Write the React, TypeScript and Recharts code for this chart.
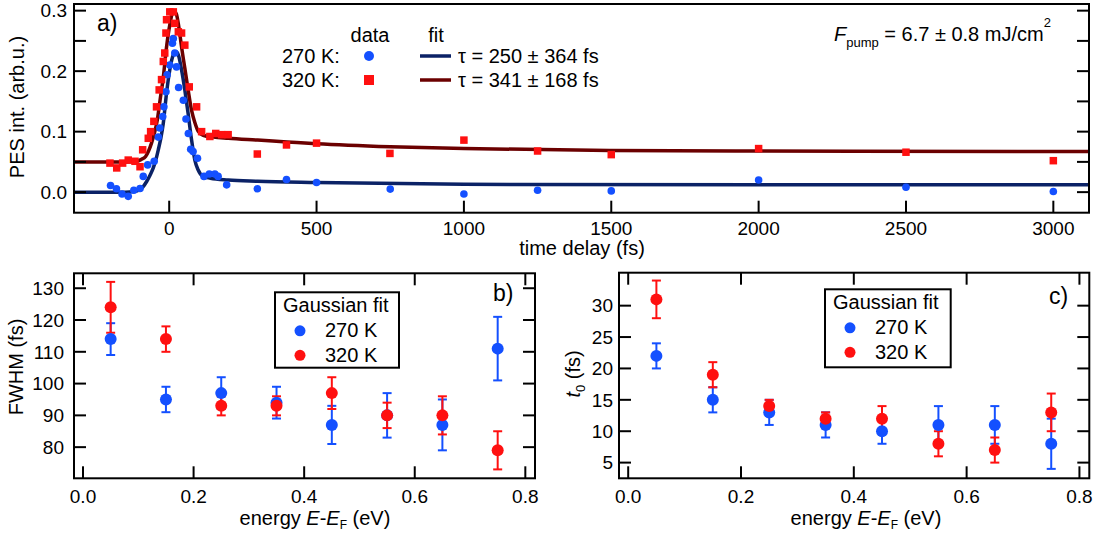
import React from "react"
import { ComposedChart, Scatter, Line, XAxis, YAxis, ErrorBar } from "recharts"

const FONT = "'Liberation Sans', Arial, Helvetica, sans-serif"

const DOT_BLUE = "#1450ff"
const DOT_RED = "#ff1010"
const FIT_BLUE = "#0b2266"
const FIT_RED = "#6b0000"

// a) PES intensity vs time delay
const delay270 = [-199, -179, -160, -139, -120, -99, -88, -73, -51, -37, -32, -22, -18, -11, -7, 2, 11, 14, 19, 25, 32, 48, 57, 65, 73, 81, 96, 118, 136, 155, 166, 195, 299, 398, 500, 750, 1000, 1250, 1500, 2000, 2500, 3000]
const pes270 = [0.011, 0.0055, -0.003, -0.007, 0.003, 0.006, 0.026, 0.045, 0.051, 0.091, 0.106, 0.125, 0.141, 0.166, 0.194, 0.21, 0.246, 0.254, 0.23, 0.207, 0.173, 0.152, 0.121, 0.097, 0.071, 0.067, 0.056, 0.026, 0.03, 0.03, 0.026, 0.012, 0.0055, 0.021, 0.016, 0.005, -0.003, 0.003, 0.002, 0.02, 0.008, 0.001]
const delay320 = [-201, -178, -158, -139, -116, -99, -90, -71, -63, -52, -43, -34, -26, -20, -15, -11, -9, 2, 14, 19, 31, 42, 53, 68, 93, 110, 138, 158, 178, 200, 299, 398, 500, 749, 1000, 1250, 1500, 2000, 2500, 3000]
const pes320 = [0.048, 0.04, 0.048, 0.053, 0.051, 0.042, 0.07, 0.089, 0.1, 0.117, 0.141, 0.169, 0.186, 0.216, 0.23, 0.263, 0.285, 0.298, 0.298, 0.279, 0.265, 0.263, 0.243, 0.174, 0.141, 0.1, 0.092, 0.097, 0.095, 0.095, 0.063, 0.078, 0.081, 0.064, 0.086, 0.068, 0.062, 0.072, 0.066, 0.052]

const fitDelay270 = [-323, -150, -120, -100, -90, -76, -65, -54, -45, -37, -28, -20, -9, 2, 14, 23, 31, 42, 53, 64, 76, 87, 98, 115, 140, 200, 300, 500, 1000, 2000, 3121]
const fit270 = [0, 0, 0.001, 0.004, 0.008, 0.018, 0.028, 0.04, 0.054, 0.07, 0.09, 0.114, 0.164, 0.202, 0.227, 0.232, 0.227, 0.202, 0.169, 0.131, 0.086, 0.053, 0.037, 0.026, 0.023, 0.02, 0.018, 0.016, 0.013, 0.012, 0.012]
const fitDelay320 = [-323, -150, -110, -95, -80, -70, -60, -50, -40, -31, -20, -9, 3, 14, 24, 33, 42, 53, 64, 76, 87, 98, 115, 150, 200, 300, 400, 500, 750, 1000, 1500, 2000, 3121]
const fit320 = [0.05, 0.05, 0.051, 0.054, 0.059, 0.068, 0.081, 0.098, 0.12, 0.152, 0.19, 0.24, 0.279, 0.3, 0.295, 0.272, 0.24, 0.205, 0.17, 0.135, 0.115, 0.101, 0.094, 0.091, 0.089, 0.086, 0.083, 0.08, 0.075, 0.072, 0.069, 0.068, 0.067]

const delayTicks = [0, 500, 1000, 1500, 2000, 2500, 3000]
const pesTicks = [0, 0.05, 0.1, 0.15, 0.2, 0.25, 0.3]

// b) and c) Gaussian fit results vs energy
const energy = [0.05, 0.15, 0.25, 0.35, 0.45, 0.55, 0.65, 0.75]
const fwhm270 = [114, 95, 97, 94, 87, 90, 87, 111]
const fwhm270Err = [5, 4, 5, 5, 6, 7, 8, 10]
const fwhm320 = [124, 114, 93, 93, 97, 90, 90, 79]
const fwhm320Err = [8, 4, 3, 3, 5, 4, 6, 6]
const t0270 = [22, 15, 13, 11, 10, 11, 11, 8]
const t0270Err = [2, 2, 2, 2, 2, 3, 3, 4]
const t0320 = [31, 19, 14, 12, 12, 8, 7, 13]
const t0320Err = [3, 2, 1, 1, 2, 2, 2, 3]

const energyTicks = [0, 0.2, 0.4, 0.6, 0.8]
const fwhmTicks = [80, 90, 100, 110, 120, 130]
const t0Ticks = [5, 10, 15, 20, 25, 30]

const pairs = (xs: number[], ys: number[]) => xs.map((t, i) => ({ t, y: ys[i] }))
const withErr = (ys: number[], errs: number[]) =>
  energy.map((x, i) => ({ x, y: ys[i], err: errs[i] }))

type Box = { l: number; t: number; r: number; b: number }

const TICK = 12

function leftTick(box: Box, fmt: (v: number) => string, gap: number) {
  return (props: any) => {
    const { y, payload } = props
    const label = fmt(payload.value)
    return (
      <g>
        <line x1={box.l} x2={box.l + TICK} y1={y} y2={y} stroke="#000" strokeWidth={2} />
        <line x1={box.r - TICK} x2={box.r} y1={y} y2={y} stroke="#000" strokeWidth={2} />
        {label && (
          <text x={box.l - gap} y={y} dy="0.36em" textAnchor="end" fontSize={19} fontFamily={FONT} fill="#000">
            {label}
          </text>
        )}
      </g>
    )
  }
}

function bottomTick(box: Box, fmt: (v: number) => string, drop: number, mirror: boolean) {
  return (props: any) => {
    const { x, payload } = props
    return (
      <g>
        <line x1={x} x2={x} y1={box.b} y2={box.b - TICK} stroke="#000" strokeWidth={2} />
        {mirror && <line x1={x} x2={x} y1={box.t} y2={box.t + TICK} stroke="#000" strokeWidth={2} />}
        <text x={x} y={box.b + drop} textAnchor="middle" fontSize={19} fontFamily={FONT} fill="#000">
          {fmt(payload.value)}
        </text>
      </g>
    )
  }
}

const dot = (r: number, fill: string) => (p: any) => <circle cx={p.cx} cy={p.cy} r={r} fill={fill} />
const square = (s: number, fill: string) => (p: any) => (
  <rect x={p.cx - s / 2} y={p.cy - s / 2} width={s} height={s} fill={fill} />
)

function DelayPanel() {
  const W = 1100
  const H = 260
  const box = { l: 74, t: 4, r: 1089, b: 212.7 }
  return (
    <ComposedChart width={W} height={H} margin={{ top: box.t, right: W - box.r, bottom: 0, left: 0 }}>
      <XAxis
        type="number"
        dataKey="t"
        domain={[-323, 3121]}
        ticks={delayTicks}
        interval={0}
        allowDataOverflow
        height={H - box.b}
        axisLine={false}
        tickLine={false}
        tickSize={0}
        tickMargin={0}
        tick={bottomTick(box, (v) => String(v), 22, false)}
      />
      <YAxis
        type="number"
        dataKey="y"
        domain={[-0.034, 0.311]}
        ticks={pesTicks}
        interval={0}
        allowDataOverflow
        width={box.l}
        axisLine={false}
        tickLine={false}
        tickSize={0}
        tickMargin={0}
        tick={leftTick(box, (v) => (Math.abs(v * 10 - Math.round(v * 10)) < 1e-6 ? v.toFixed(1) : ""), 7)}
      />
      <Scatter data={pairs(delay270, pes270)} shape={dot(3.8, DOT_BLUE)} isAnimationActive={false} />
      <Scatter data={pairs(delay320, pes320)} shape={square(7.5, DOT_RED)} isAnimationActive={false} />
      <Line data={pairs(fitDelay270, fit270)} dataKey="y" type="monotone" stroke={FIT_BLUE} strokeWidth={3.5} dot={false} isAnimationActive={false} />
      <Line data={pairs(fitDelay320, fit320)} dataKey="y" type="monotone" stroke={FIT_RED} strokeWidth={3.5} dot={false} isAnimationActive={false} />
    </ComposedChart>
  )
}

function EnergyPanel(props: {
  W: number
  box: Box
  yDomain: [number, number]
  yTicks: number[]
  yGap: number
  blue: { x: number; y: number; err: number }[]
  red: { x: number; y: number; err: number }[]
}) {
  const { W, box, yDomain, yTicks, yGap, blue, red } = props
  const H = 278
  return (
    <ComposedChart width={W} height={H} margin={{ top: box.t, right: W - box.r, bottom: 0, left: 0 }}>
      <XAxis
        type="number"
        dataKey="x"
        domain={[-0.0163, 0.8175]}
        ticks={energyTicks}
        interval={0}
        allowDataOverflow
        height={H - box.b}
        axisLine={false}
        tickLine={false}
        tickSize={0}
        tickMargin={0}
        tick={bottomTick(box, (v) => v.toFixed(1), 25, true)}
      />
      <YAxis
        type="number"
        dataKey="y"
        domain={yDomain}
        ticks={yTicks}
        interval={0}
        allowDataOverflow
        width={box.l}
        axisLine={false}
        tickLine={false}
        tickSize={0}
        tickMargin={0}
        tick={leftTick(box, (v) => String(v), yGap)}
      />
      <Scatter data={blue} shape={dot(6, DOT_BLUE)} isAnimationActive={false}>
        <ErrorBar dataKey="err" direction="y" width={4.5} stroke={DOT_BLUE} strokeWidth={2} />
      </Scatter>
      <Scatter data={red} shape={dot(6, DOT_RED)} isAnimationActive={false}>
        <ErrorBar dataKey="err" direction="y" width={4.5} stroke={DOT_RED} strokeWidth={2} />
      </Scatter>
    </ComposedChart>
  )
}

function GaussLegend({ x, y, w, h }: { x: number; y: number; w: number; h: number }) {
  return (
    <g fontFamily={FONT} fontSize={20} fill="#000">
      <rect x={x} y={y} width={w} height={h} fill="#fff" stroke="#000" strokeWidth={2} />
      <text x={x + 8} y={y + 20}>Gaussian fit</text>
      <circle cx={x + 25} cy={y + 38.5} r={5.5} fill={DOT_BLUE} />
      <text x={x + 50} y={y + 45}>270 K</text>
      <circle cx={x + 25} cy={y + 63} r={5.5} fill={DOT_RED} />
      <text x={x + 50} y={y + 69.5}>320 K</text>
    </g>
  )
}

function EnergyTitle({ cx }: { cx: number }) {
  return (
    <text x={cx} y={525} textAnchor="middle">
      energy <tspan fontStyle="italic">E</tspan>-<tspan fontStyle="italic">E</tspan>
      <tspan fontSize={12} dy={4}>F</tspan>
      <tspan dy={-4}> (eV)</tspan>
    </text>
  )
}

export default function App() {
  return (
    <div style={{ position: "absolute", left: 0, top: 0, width: 1100, height: 538, background: "#fff" }}>
      <div style={{ position: "absolute", left: 0, top: 0 }}>
        <DelayPanel />
      </div>
      <div style={{ position: "absolute", left: 0, top: 260 }}>
        <EnergyPanel
          W={560}
          box={{ l: 74, t: 13.3, r: 535, b: 218.3 }}
          yDomain={[70.2, 134.7]}
          yTicks={fwhmTicks}
          yGap={10}
          blue={withErr(fwhm270, fwhm270Err)}
          red={withErr(fwhm320, fwhm320Err)}
        />
      </div>
      <div style={{ position: "absolute", left: 560, top: 260 }}>
        <EnergyPanel
          W={540}
          box={{ l: 59, t: 12.7, r: 529.3, b: 218.3 }}
          yDomain={[2.5, 35.25]}
          yTicks={t0Ticks}
          yGap={6}
          blue={withErr(t0270, t0270Err)}
          red={withErr(t0320, t0320Err)}
        />
      </div>
      <svg
        width={1100}
        height={538}
        style={{ position: "absolute", left: 0, top: 0, pointerEvents: "none" }}
        fontFamily={FONT}
        fontSize={20}
        fill="#000"
      >
        {/* frames */}
        <rect x={74} y={4} width={1015} height={208.7} fill="none" stroke="#000" strokeWidth={2} />
        <rect x={74} y={273.3} width={461} height={205} fill="none" stroke="#000" strokeWidth={2} />
        <rect x={619} y={272.7} width={470.3} height={205.6} fill="none" stroke="#000" strokeWidth={2} />

        {/* panel a */}
        <text x={97} y={31} fontSize={23}>a)</text>
        <text x={370} y={42} textAnchor="middle">data</text>
        <text x={436} y={42} textAnchor="middle">fit</text>
        <text x={282} y={63}>270 K:</text>
        <text x={282} y={87}>320 K:</text>
        <circle cx={369} cy={56} r={5} fill={DOT_BLUE} />
        <rect x={364} y={75} width={10} height={10} fill={DOT_RED} />
        <line x1={420} x2={451} y1={56} y2={56} stroke={FIT_BLUE} strokeWidth={3.5} />
        <line x1={420} x2={451} y1={80} y2={80} stroke={FIT_RED} strokeWidth={3.5} />
        <text x={458} y={63}>τ = 250 ± 364 fs</text>
        <text x={458} y={87}>τ = 341 ± 168 fs</text>
        <text x={834} y={41}>
          <tspan fontStyle="italic">F</tspan>
          <tspan fontSize={13} dy={6}>pump</tspan>
          <tspan dy={-6}> = 6.7 ± 0.8 mJ/cm</tspan>
          <tspan fontSize={13} dy={-14}>2</tspan>
        </text>
        <text transform="translate(24 107) rotate(-90)" textAnchor="middle">PES int. (arb.u.)</text>
        <text x={582} y={255} textAnchor="middle">time delay (fs)</text>

        {/* panel b */}
        <text x={493} y={301} fontSize={23}>b)</text>
        <GaussLegend x={275} y={292.3} w={124} h={75.4} />
        <text transform="translate(23 367) rotate(-90)" textAnchor="middle">FWHM (fs)</text>
        <EnergyTitle cx={315} />

        {/* panel c */}
        <text x={1049} y={304} fontSize={23}>c)</text>
        <GaussLegend x={825} y={289.3} w={125.7} h={78} />
        <text transform="translate(580 374) rotate(-90)" textAnchor="middle">
          <tspan fontStyle="italic">t</tspan>
          <tspan fontSize={13} dy={5}>0</tspan>
          <tspan dy={-5}>  (fs)</tspan>
        </text>
        <EnergyTitle cx={866} />
      </svg>
    </div>
  )
}
